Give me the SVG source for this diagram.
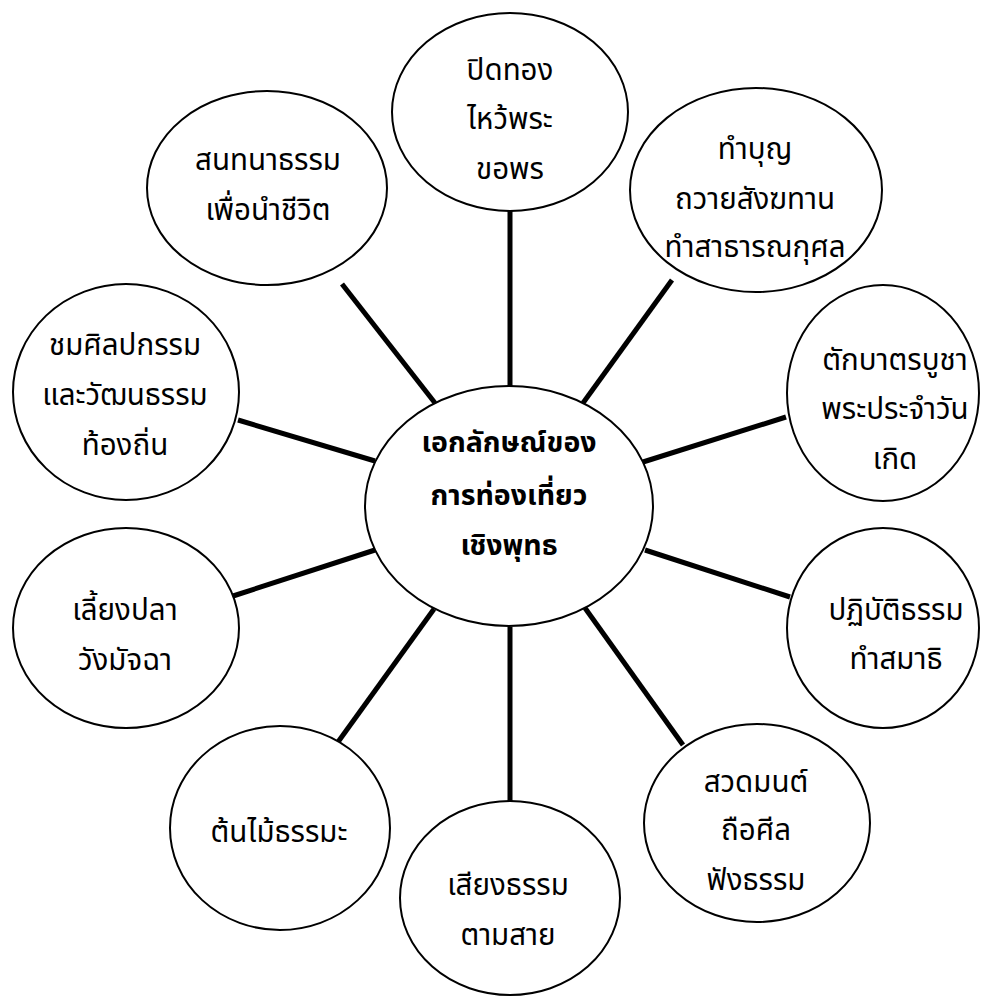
<svg xmlns="http://www.w3.org/2000/svg" width="996" height="996" viewBox="0 0 996 996">
<style>
.n{fill:#fff;stroke:#000;stroke-width:2}
.t{font-family:Tahoma,"Noto Sans Thai","Noto Sans","DejaVu Sans",sans-serif;font-size:29.5px;fill:#000;text-anchor:middle}
.b{font-weight:bold;font-size:28.5px}
.c line{stroke:#000;stroke-width:5}
</style>
<rect width="996" height="996" fill="#fff"/>
<g id="connectors" class="c">
<line x1="510" y1="211" x2="510" y2="386"/>
<line x1="672" y1="280" x2="583" y2="403"/>
<line x1="342" y1="284" x2="435" y2="403"/>
<line x1="238" y1="420" x2="375" y2="461"/>
<line x1="643" y1="462" x2="786" y2="417"/>
<line x1="375" y1="550" x2="233" y2="596"/>
<line x1="645" y1="550" x2="790" y2="597"/>
<line x1="434" y1="609" x2="338" y2="742"/>
<line x1="510" y1="627" x2="510" y2="802"/>
<line x1="585" y1="608" x2="683" y2="745"/>
</g>
<g id="center">
<ellipse class="n" cx="509" cy="506" rx="144" ry="120"/>
<text class="t b" x="509" y="452">เอกลักษณ์ของ</text>
<text class="t b" x="509" y="505">การท่องเที่ยว</text>
<text class="t b" x="509" y="555">เชิงพุทธ</text>
</g>
<g id="n-top">
<ellipse class="n" cx="510" cy="112" rx="118" ry="99"/>
<text class="t" x="510" y="80">ปิดทอง</text>
<text class="t" x="510" y="129">ไหว้พระ</text>
<text class="t" x="510" y="179">ขอพร</text>
</g>
<g id="n-topright">
<ellipse class="n" cx="756" cy="190" rx="126" ry="102"/>
<text class="t" x="755" y="159">ทำบุญ</text>
<text class="t" x="755" y="209">ถวายสังฆทาน</text>
<text class="t" x="755" y="257">ทำสาธารณกุศล</text>
</g>
<g id="n-topleft">
<ellipse class="n" cx="267" cy="188" rx="120" ry="97"/>
<text class="t" x="268" y="170">สนทนาธรรม</text>
<text class="t" x="268" y="220">เพื่อนำชีวิต</text>
</g>
<g id="n-leftupper">
<ellipse class="n" cx="126" cy="392" rx="113" ry="108"/>
<text class="t" x="125" y="355">ชมศิลปกรรม</text>
<text class="t" x="125" y="405">และวัฒนธรรม</text>
<text class="t" x="125" y="455">ท้องถิ่น</text>
</g>
<g id="n-rightupper">
<ellipse class="n" cx="883" cy="393" rx="96" ry="108"/>
<text class="t" x="895" y="370">ตักบาตรบูชา</text>
<text class="t" x="895" y="419">พระประจำวัน</text>
<text class="t" x="895" y="469">เกิด</text>
</g>
<g id="n-leftlower">
<ellipse class="n" cx="126" cy="628" rx="113" ry="100"/>
<text class="t" x="125" y="620">เลี้ยงปลา</text>
<text class="t" x="125" y="670">วังมัจฉา</text>
</g>
<g id="n-rightlower">
<ellipse class="n" cx="883" cy="628" rx="96" ry="100"/>
<text class="t" x="896" y="620">ปฏิบัติธรรม</text>
<text class="t" x="896" y="669">ทำสมาธิ</text>
</g>
<g id="n-bottomleft">
<ellipse class="n" cx="280" cy="828" rx="110" ry="102"/>
<text class="t" x="279" y="842">ต้นไม้ธรรมะ</text>
</g>
<g id="n-bottom">
<ellipse class="n" cx="510" cy="898" rx="110" ry="97"/>
<text class="t" x="508" y="895">เสียงธรรม</text>
<text class="t" x="508" y="945">ตามสาย</text>
</g>
<g id="n-bottomright">
<ellipse class="n" cx="757" cy="823" rx="113" ry="99"/>
<text class="t" x="756" y="792">สวดมนต์</text>
<text class="t" x="756" y="840">ถือศีล</text>
<text class="t" x="756" y="890">ฟังธรรม</text>
</g>
</svg>
